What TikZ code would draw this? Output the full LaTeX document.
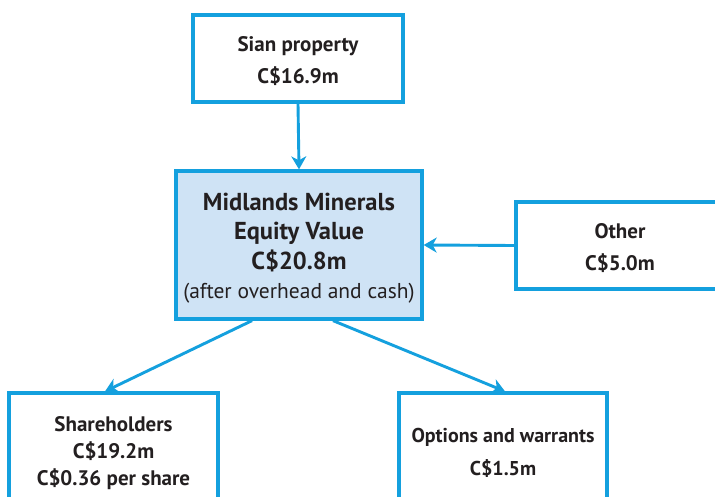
\documentclass[tikz,border=0pt]{standalone}
\usepackage{fontspec}
\setmainfont{PT Sans}
\usetikzlibrary{arrows.meta}
\definecolor{lineblue}{RGB}{20,160,222}
\definecolor{boxfill}{RGB}{207,227,245}
\definecolor{txt}{RGB}{35,31,32}
\tikzset{
  box/.style={draw=lineblue, line width=3.3pt, rectangle, inner sep=0pt},
  lbl/.style={align=center, inner sep=0pt, text=txt},
  arr/.style={draw=lineblue, line width=2.9pt, -{Stealth[length=13pt,width=15pt,inset=4pt]}},
  bigtext/.style={font=\fontsize{21}{32}\selectfont\bfseries},
}
\begin{document}
\begin{tikzpicture}[x=1pt,y=-1pt]
\useasboundingbox (0,0) rectangle (715,497);
\clip (0,0) rectangle (715,497);
\fill[white] (0,0) rectangle (715,497);
\node[box, minimum width=210pt, minimum height=87pt] (sian) at (298,58.5) {};
\node[lbl, bigtext] (siant) at ([yshift=-3pt]sian.center) {Sian property\\C\$16.9m};
\node[box, fill=boxfill, minimum width=246pt, minimum height=148pt] (mid) at (299,245) {};
\node[lbl, font=\fontsize{24.5}{29.5}\selectfont] (midt) at ([yshift=-3pt]mid.center)
  {\bfseries Midlands Minerals\\\bfseries Equity Value\\\bfseries C\$20.8m\\\fontsize{21.5}{28}\selectfont(after overhead and cash)};
\node[box, minimum width=220pt, minimum height=87pt] (other) at (626,245.5) {};
\node[lbl, bigtext] (othert) at ([xshift=-6pt,yshift=-3pt]other.center) {Other\\C\$5.0m};
\node[box, minimum width=209pt, minimum height=120pt] (share) at (113.5,453) {};
\node[lbl, font=\fontsize{21}{27}\selectfont\bfseries] (sharet) at (share.center) {Shareholders\\C\$19.2m\\C\$0.36 per share};
\node[box, minimum width=208pt, minimum height=120pt] (opts) at (503,453) {};
\node[lbl, font=\fontsize{20}{33}\selectfont\bfseries] (optst) at (opts.center) {Options and warrants\\C\$1.5m};
\draw[arr] (sian.south) -- (mid.north);
\draw[arr] (other.west) -- (mid.east);
\draw[arr] ([xshift=-47pt]mid.south) -- ([xshift=-8.5pt]share.north);
\draw[arr] ([xshift=34pt]mid.south) -- ([xshift=2pt]opts.north);
\end{tikzpicture}
\end{document}
